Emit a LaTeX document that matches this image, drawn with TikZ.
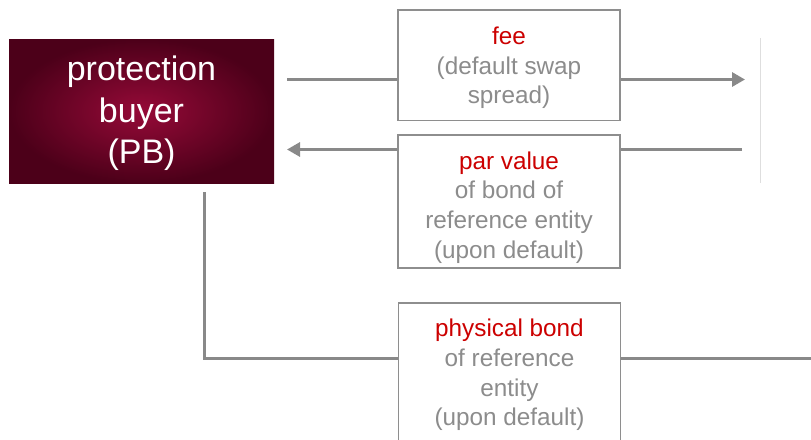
\documentclass[tikz,border=0pt]{standalone}
\usepackage{fontspec}
\setmainfont{Liberation Sans}
\usetikzlibrary{arrows.meta}
\definecolor{linegray}{HTML}{898989}
\definecolor{boxgray}{HTML}{8E8E8E}
\definecolor{txtgray}{HTML}{8C8C8C}
\definecolor{redtxt}{HTML}{CC0000}
\definecolor{pbin}{HTML}{960A38}
\definecolor{pbout}{HTML}{4C0019}
\definecolor{faint}{HTML}{DEDEDE}
\tikzset{
  box/.style={draw=boxgray, line width=1.5pt, fill=white, minimum width=222pt, inner sep=0pt},
  txt/.style={font=\fontsize{24.3}{29.7}\selectfont, text=txtgray, align=center, inner sep=0pt},
  conn/.style={draw=linegray, line width=3pt},
  arr/.style={conn, -{Triangle[length=13pt,width=14pt]}},
  pbbox/.style={shading=radial, inner color=pbin, outer color=pbout, minimum width=265pt,
    minimum height=144pt, inner sep=0pt, text=white, font=\fontsize{34}{41.5}\selectfont, align=center}
}
\begin{document}
\begin{tikzpicture}[x=1pt,y=-1pt]
\useasboundingbox (0,0) rectangle (811,439);
\clip (0,0) rectangle (811,439);
% protection buyer
\node[pbbox] (pb) at (141.5,111) {};
\node[text=white, font=\fontsize{34}{41.5}\selectfont, align=center, inner sep=0pt] (pbtxt) at (141.5,113.5) {protection\\buyer\\(PB)};
% boxes
\node[box, minimum height=110.5pt] (fee) at (509,65) {};
\node[txt] (feetxt) at (509,68) {\textcolor{redtxt}{fee}\\(default swap\\spread)};
\node[box, minimum height=133pt] (par) at (509,201.5) {};
\node[txt] (partxt) at (509,207.5) {\textcolor{redtxt}{par value}\\of bond of\\reference entity\\(upon default)};
\node[box, minimum height=157pt] (bond) at (509.5,381.5) {};
\node[txt] (bondtxt) at (509.5,375) {\textcolor{redtxt}{physical bond}\\of reference\\entity\\(upon default)};
% coordinates for free ends
\coordinate (a1) at (287,79.5);
\coordinate (a1e) at (745,79.5);
\coordinate (a2s) at (742,149.5);
\coordinate (a2e) at (287,149.5);
\coordinate (b1) at (204,192);
\coordinate (b2) at (204,358.3);
\coordinate (b3) at (811,358.3);
\coordinate (v1) at (760,38);
\coordinate (v2) at (760,183);
% connectors
\draw[conn] (a1) -- (a1 -| fee.west);
\draw[arr] (a1 -| fee.east) -- (a1e);
\draw[conn] (a2s) -- (a2s -| par.east);
\draw[arr] (a2s -| par.west) -- (a2e);
\draw[conn] (b1) -- (b2) -- (b2 -| bond.west);
\draw[conn] (b2 -| bond.east) -- (b3);
\draw[draw=faint, line width=1pt] (v1) -- (v2);
\end{tikzpicture}
\end{document}
